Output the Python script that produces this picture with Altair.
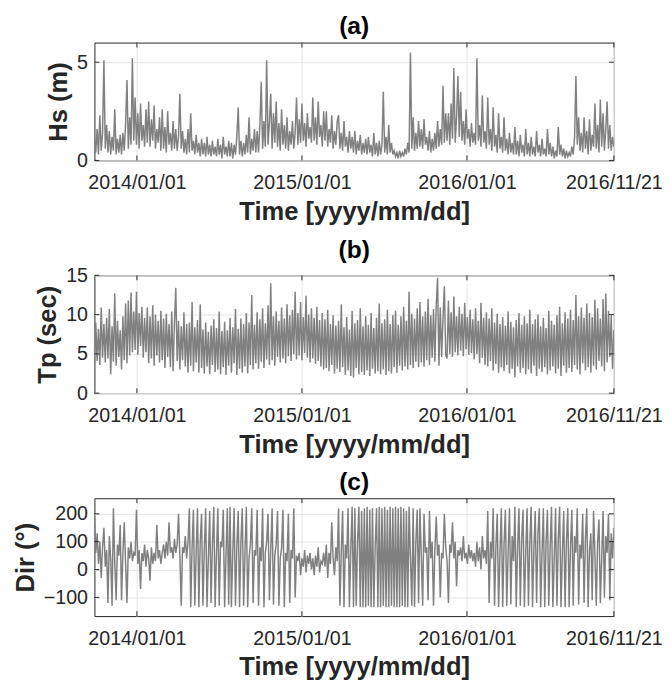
import altair as alt
import pandas as pd

# ---------------- data ----------------
START = "2013-09-29"      # first sample (left edge of the time axis)
END = "2016-11-21"        # last sample (right edge of the time axis)
STEP_DAYS = 3
XTICKS = ["2014-01-01", "2015-01-01", "2016-01-01", "2016-11-21"]

# significant wave height Hs (m)
HS = [
    1.2, 0.4, 1.6, 0.3, 2.3, 0.5, 1.4, 5.1, 0.6, 1.8,
    0.4, 1.5, 0.3, 1.2, 0.5, 2.6, 0.3, 1.1, 0.4, 1.3,
    0.3, 1.4, 0.5, 1.9, 4.1, 0.6, 2.2, 0.8, 5.2, 1.0,
    3.2, 0.8, 2.4, 0.6, 2.9, 1.0, 1.8, 0.7, 2.6, 0.9,
    3.0, 0.7, 2.1, 1.0, 2.8, 0.6, 1.6, 0.9, 2.2, 0.5,
    2.6, 0.6, 1.7, 0.4, 2.5, 0.8, 1.4, 0.5, 2.0, 0.6,
    1.6, 0.5, 1.2, 3.4, 0.6, 1.5, 0.4, 1.1, 0.3, 1.6,
    0.4, 2.4, 0.5, 1.0, 0.3, 1.3, 0.4, 0.9, 0.2, 1.1,
    0.3, 0.9, 0.2, 1.2, 0.3, 0.8, 0.2, 1.0, 0.3, 0.7,
    0.2, 1.1, 0.3, 0.8, 0.1, 1.2, 0.3, 0.7, 0.2, 1.0,
    0.2, 0.9, 0.1, 0.8, 0.3, 1.2, 2.7, 0.3, 1.0, 0.2,
    0.9, 0.3, 1.3, 0.4, 2.2, 0.3, 1.1, 0.5, 1.6, 0.4,
    1.5, 0.4, 1.8, 4.0, 0.6, 2.0, 0.7, 5.1, 0.8, 1.9,
    3.4, 0.6, 2.4, 0.9, 3.0, 0.7, 1.9, 0.5, 2.6, 0.8,
    1.8, 0.6, 2.2, 0.5, 1.5, 0.8, 2.0, 0.6, 1.4, 3.2,
    0.8, 2.1, 0.9, 2.9, 1.0, 1.9, 0.7, 2.4, 1.1, 1.7,
    0.9, 3.2, 1.0, 2.2, 0.8, 3.0, 1.2, 1.8, 0.7, 2.5,
    1.0, 2.5, 0.7, 1.6, 0.9, 2.3, 0.6, 1.5, 0.8, 2.0,
    2.3, 0.6, 1.4, 0.5, 2.0, 0.7, 1.2, 0.4, 1.5, 0.6,
    1.2, 0.4, 1.5, 0.3, 1.0, 0.5, 1.3, 0.3, 0.9, 0.4,
    1.1, 0.3, 1.2, 0.4, 0.8, 0.2, 1.4, 0.3, 0.9, 0.2,
    1.0, 0.3, 0.8, 3.5, 0.4, 1.2, 0.3, 1.8, 0.4, 0.9,
    0.3, 0.5, 0.2, 0.4, 0.1, 0.5, 0.2, 0.4, 0.2, 0.6,
    0.3, 0.9, 0.4, 5.5, 0.6, 2.2, 0.5, 1.4, 0.6, 2.0,
    0.7, 1.6, 0.6, 2.1, 0.8, 1.2, 0.5, 1.5, 0.4, 1.1,
    0.5, 1.4, 0.6, 2.0, 0.7, 1.6, 0.8, 3.8, 0.9, 2.4,
    1.0, 2.4, 0.8, 2.9, 1.1, 4.7, 0.9, 2.2, 4.3, 1.2,
    3.5, 1.0, 2.0, 0.8, 2.6, 1.1, 1.6, 0.7, 1.9, 0.9,
    1.4, 0.8, 5.2, 1.0, 1.8, 0.7, 3.3, 0.9, 1.5, 0.6,
    3.2, 0.8, 1.6, 0.5, 2.7, 0.7, 1.3, 0.4, 2.4, 0.6,
    1.2, 0.4, 2.2, 0.5, 1.1, 0.3, 1.4, 0.4, 0.9, 0.3,
    1.7, 0.3, 1.0, 0.2, 1.3, 0.4, 0.8, 0.2, 1.6, 0.3,
    0.9, 0.2, 1.2, 0.3, 0.7, 0.2, 1.5, 0.4, 0.8, 0.2,
    1.1, 0.3, 0.6, 0.2, 1.6, 0.3, 0.9, 0.2, 0.7, 0.1,
    0.5, 0.2, 1.7, 0.3, 0.8, 0.2, 0.6, 0.1, 0.5, 0.2,
    0.4, 0.2, 0.7, 0.3, 1.2, 4.3, 0.8, 2.2, 0.5, 1.4,
    0.4, 2.2, 0.6, 1.5, 0.3, 2.1, 0.5, 1.3, 0.7, 2.9,
    0.6, 1.8, 0.4, 3.1, 0.7, 2.4, 0.5, 1.6, 3.0, 0.6,
    1.8, 0.5, 1.2, 0.7,
]

# peak period Tp (sec)
TP = [
    3.8, 9.0, 4.1, 8.2, 3.6, 10.9, 4.5, 8.8, 3.9, 9.6,
    4.4, 10.7, 2.4, 8.5, 4.0, 12.7, 3.5, 9.2, 4.6, 8.0,
    3.0, 9.8, 4.2, 11.4, 3.8, 11.8, 4.8, 12.8, 5.2, 10.4,
    5.5, 12.9, 4.9, 10.2, 6.0, 11.0, 4.5, 9.6, 5.2, 10.9,
    3.8, 9.8, 4.4, 11.2, 3.5, 10.0, 4.8, 9.2, 3.9, 10.5,
    4.2, 9.5, 3.2, 10.1, 4.6, 8.8, 3.3, 10.4, 2.8, 9.0,
    13.4, 4.1, 9.2, 3.0, 8.5, 4.2, 10.3, 3.4, 8.8, 2.6,
    9.0, 3.5, 11.6, 2.8, 8.4, 3.9, 9.3, 2.6, 11.3, 3.2,
    8.1, 2.5, 9.0, 3.4, 7.8, 2.4, 8.6, 3.6, 9.4, 2.7,
    8.3, 3.0, 10.4, 2.4, 7.9, 3.3, 9.1, 2.3, 8.0, 3.5,
    9.6, 2.6, 8.4, 3.8, 10.7, 2.3, 8.2, 3.1, 9.5, 2.6,
    8.8, 3.4, 10.2, 2.5, 9.0, 3.6, 12.5, 3.0, 8.7, 3.8,
    10.3, 3.1, 9.4, 4.0, 10.8, 3.2, 8.9, 4.3, 11.2, 3.6,
    14.0, 4.2, 9.8, 3.5, 10.4, 4.6, 9.2, 3.9, 10.9, 4.4,
    9.5, 3.8, 11.3, 4.7, 9.9, 4.1, 10.6, 5.0, 12.9, 4.3,
    10.2, 4.8, 11.6, 4.2, 9.7, 5.1, 12.4, 4.5, 10.0, 3.9,
    10.8, 4.4, 9.6, 3.7, 11.0, 4.1, 9.3, 3.4, 10.2, 3.0,
    9.4, 3.2, 10.6, 2.8, 8.8, 3.6, 9.9, 2.5, 8.6, 3.1,
    9.2, 2.7, 11.3, 3.3, 8.4, 2.3, 9.7, 2.9, 8.1, 2.2,
    10.5, 2.0, 8.9, 3.2, 9.3, 2.4, 10.8, 2.7, 8.5, 2.3,
    9.8, 2.9, 8.7, 2.2, 10.2, 3.1, 8.3, 2.5, 9.6, 2.8,
    11.4, 2.4, 8.9, 3.0, 9.4, 2.3, 10.6, 2.8, 8.8, 2.5,
    9.9, 3.3, 10.5, 2.6, 8.7, 3.5, 9.8, 2.9, 11.0, 3.4,
    9.2, 3.0, 12.9, 3.6, 10.1, 3.2, 9.5, 4.0, 10.8, 3.3,
    11.6, 3.9, 9.8, 3.4, 10.4, 4.2, 12.0, 3.6, 9.9, 4.5,
    10.7, 4.0, 11.2, 14.7, 3.5, 10.9, 4.6, 9.6, 13.6, 4.8,
    4.4, 11.8, 5.0, 10.3, 4.6, 12.3, 5.2, 9.8, 4.8, 11.0,
    5.4, 10.1, 4.7, 11.5, 5.6, 9.7, 4.9, 10.6, 5.1, 9.4,
    4.3, 10.8, 5.0, 9.2, 3.8, 11.5, 4.5, 9.6, 3.6, 10.3,
    3.4, 9.5, 4.1, 10.8, 2.9, 9.0, 3.7, 10.1, 2.6, 8.8,
    3.3, 9.7, 2.8, 8.6, 3.6, 10.4, 2.5, 9.1, 3.1, 8.4,
    2.0, 9.3, 3.4, 10.2, 2.6, 8.7, 3.2, 9.8, 2.4, 8.9,
    3.0, 10.6, 2.5, 8.8, 3.5, 9.4, 2.2, 10.0, 3.1, 8.5,
    2.7, 9.6, 3.3, 8.3, 2.4, 10.5, 2.9, 9.2, 3.4, 8.7,
    2.5, 9.9, 3.1, 11.0, 2.2, 8.9, 3.5, 10.3, 2.6, 9.5,
    3.2, 10.6, 2.7, 9.3, 3.6, 12.5, 3.0, 9.8, 2.4, 10.9,
    3.8, 9.6, 2.9, 11.4, 3.3, 10.2, 2.6, 9.7, 3.5, 11.9,
    3.0, 10.8, 4.1, 9.5, 3.4, 12.0, 2.8, 12.7, 3.9, 10.5,
    4.6, 9.9, 3.1, 8.0,
]

# mean wave direction Dir (deg)
DIR = [
    190, 60, 130, 20, 100, -30, 80, 150, 10, 70,
    -120, 120, 40, -130, 220, 30, -110, 90, 50, 160,
    -110, 60, 170, 20, -120, 80, 40, 100, 30, 60,
    50, 215, 20, 70, -70, 60, 30, 90, 10, 70,
    40, -40, 80, 20, 60, 30, 160, 40, 70, 20,
    60, 90, 40, 100, 50, 170, 60, 80, 40, 110,
    60, 90, 200, 50, -130, 80, 60, 120, 40, 100,
    220, -135, 80, 215, -130, 60, 220, -135, 100, 200,
    -130, 70, 220, -135, 40, 210, -120, 90, 225, -135,
    60, 220, -130, 100, 80, 215, -135, 50, 220, -125,
    225, -135, 60, 220, -130, 80, 210, -135, 100, 220,
    -130, 60, 225, -135, 40, 90, 220, -120, 70, 50,
    215, -130, 80, 30, 220, -135, 60, 100, 200, -110,
    70, 220, -125, 50, 90, 210, -130, 40, 80, 215,
    -135, 60, 30, 200, -120, 70, 40, 220, -100, 50,
    30, 60, -20, 40, 10, 70, -10, 50, 20, 60,
    0, 40, -20, 50, 10, 80, -10, 30, 20, 60,
    10, 90, -30, 60, 20, 170, 40, -20, 80, 30,
    220, -130, 60, 210, -135, 90, 40, 220, -135, 70,
    225, -135, 220, -130, 100, 225, -135, 210, -135, 220,
    -135, 225, -130, 215, -135, 220, -135, 80, 220, -135,
    225, -135, 220, -130, 225, -135, 215, -135, 225, -130,
    220, -135, 225, -135, 220, -135, 225, -130, 220, -135,
    210, -135, 225, 40, -130, 220, -135, 100, 215, -120,
    220, 50, -130, 200, 60, 80, -110, 210, 40, 100,
    -130, 70, 190, 50, 90, -100, 60, 40, 200, 80,
    30, -120, 90, 60, 170, 40, 100, -60, 70, 50,
    80, 30, 120, 40, 60, 20, 90, 40, 70, 30,
    60, 10, 100, 30, 80, 0, 120, 40, 70, 20,
    210, -120, 100, 40, 220, -130, 80, 200, -135, 60,
    220, -135, 90, 215, -130, 60, 220, -125, 120, 30,
    225, -135, 80, 220, -130, 110, 215, -135, 60, 220,
    -130, 100, 225, -135, 70, 210, -120, 130, 220, -135,
    60, 220, -135, 100, 215, -130, 80, 225, -135, 40,
    220, -130, 110, 225, -135, 60, 210, -135, 100, 220,
    -135, 80, 215, -130, 120, 60, 220, -125, 90, 40,
    200, -120, 110, 220, -135, 70, 130, -110, 210, 60,
    -130, 100, 180, -120, 40, 210, -100, 120, 60, 200,
    -110, 130, 40, 150,
]

PANEL_TITLES = ["(a)", "(b)", "(c)"]
Y_TITLES = ["Hs (m)", "Tp (sec)", "Dir (°)"]
Y_DOMAINS = [[0, 6], [0, 15], [-167, 256]]
Y_TICKS = [[0, 5], [0, 5, 10, 15], [-100, 0, 100, 200]]
X_TITLE = "Time [yyyy/mm/dd]"

# ---------------- styling ----------------
W, H = 529, 120
AX = "#262626"
LINE = "#808080"
GRID = "#e3e3e3"
FONT = "Liberation Sans"
TICK_LEN = 5


def dt(s):
    y, m, d = (int(p) for p in s.split("-"))
    return alt.DateTime(year=y, month=m, date=d)


times = pd.date_range(START, periods=len(HS), freq=f"{STEP_DAYS}D")
x_scale = alt.Scale(domain=[dt(START), dt(END)])
x_values = [dt(s) for s in XTICKS]
xt_df = pd.DataFrame({"t": pd.to_datetime(XTICKS)})

x_axis = alt.Axis(
    values=x_values, format="%Y/%m/%d", title=X_TITLE,
    labelFlush=False, labelOverlap=False, grid=True, gridColor=GRID,
    ticks=False, tickSize=0, domain=False, labelPadding=13, titlePadding=6,
)


def panel(title, ytitle, values, ydom, yticks):
    df = pd.DataFrame({"t": times, "v": values})
    y_scale = alt.Scale(domain=ydom, nice=False, zero=False)
    y_axis = alt.Axis(
        values=yticks, title=ytitle, grid=True, gridColor=GRID,
        ticks=False, tickSize=0, domain=False, labelPadding=7, titlePadding=5,
    )
    X = alt.X("t:T", scale=x_scale, axis=x_axis)
    Y = alt.Y("v:Q", scale=y_scale, axis=y_axis)
    line = alt.Chart(df).mark_line(color=LINE, strokeWidth=1.5, clip=True).encode(
        x=X, y=Y,
    )
    yt_df = pd.DataFrame({"v": yticks})
    bottom = alt.Chart(xt_df).mark_rule(color=AX, strokeWidth=1).encode(
        x=X, y=alt.value(H), y2=alt.value(H - TICK_LEN),
    )
    top = alt.Chart(xt_df).mark_rule(color=AX, strokeWidth=1).encode(
        x=X, y=alt.value(0), y2=alt.value(TICK_LEN),
    )
    left = alt.Chart(yt_df).mark_rule(color=AX, strokeWidth=1).encode(
        y=Y, x=alt.value(0), x2=alt.value(TICK_LEN),
    )
    right = alt.Chart(yt_df).mark_rule(color=AX, strokeWidth=1).encode(
        y=Y, x=alt.value(W), x2=alt.value(W - TICK_LEN),
    )
    return alt.layer(line, bottom, top, left, right).properties(
        width=W, height=H,
        title=alt.TitleParams(
            title, fontSize=25, font=FONT, fontWeight="bold", color="#000000",
            anchor="middle", frame="group", offset=3,
        ),
    )


panels = [
    panel(PANEL_TITLES[i], Y_TITLES[i], s, Y_DOMAINS[i], Y_TICKS[i])
    for i, s in enumerate([HS, TP, DIR])
]

chart = alt.vconcat(*panels, spacing=12).properties(
    padding={"left": 4, "top": 0, "right": 0, "bottom": 0},
    background="white",
).configure_view(
    stroke=AX, strokeWidth=1,
).configure_axis(
    labelFont=FONT, labelFontSize=20, labelColor=AX,
    titleFont=FONT, titleFontSize=26, titleFontWeight="bold", titleColor=AX,
)

chart.save("out.html", embed_options={"renderer": "svg", "actions": False})
